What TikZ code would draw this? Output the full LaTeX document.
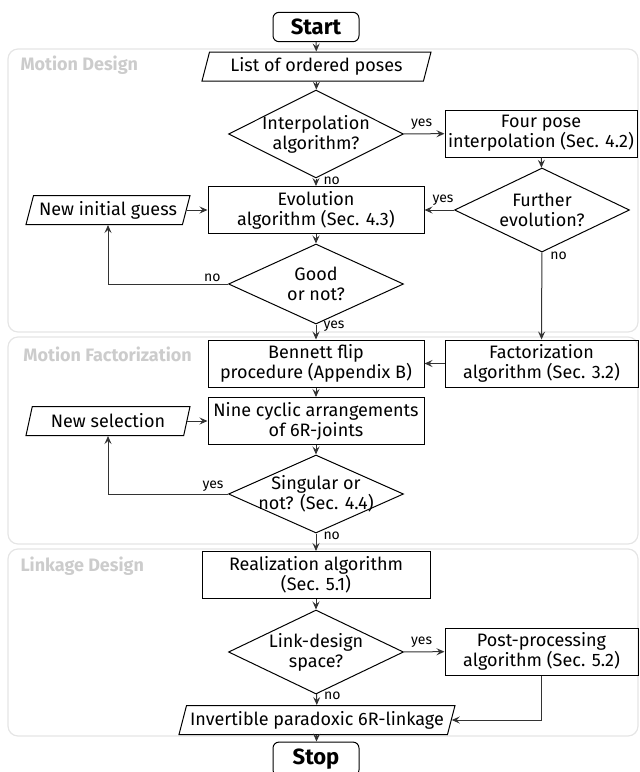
\documentclass[tikz,border=0pt]{standalone}
\usepackage{fontspec}
\setmainfont{Fira Sans}
\usetikzlibrary{shapes.geometric,arrows.meta,positioning}
\definecolor{grouptext}{gray}{0.8}
\definecolor{groupline}{gray}{0.9}
\definecolor{flowline}{gray}{0.2}

\begin{document}
\begin{tikzpicture}[
	x=0.5pt,
	y=-0.5pt,
	font=\fontsize{9}{10}\selectfont,
	>={Stealth[length=4pt,width=3.5pt,inset=1.5pt]},
	line width=0.5pt
]
\tikzset{
    process/.style = {rectangle, draw, align=center, minimum height=23.5pt, inner sep=1pt},
    decision/.style = {diamond, draw, align=center, aspect=2.2, inner sep=-2pt, minimum width=87.5pt, minimum height=42pt},
    io/.style = {trapezium, trapezium left angle=71, trapezium right angle=109, trapezium stretches body, draw, minimum height=14.5pt, inner sep=1pt},
    terminal/.style = {rectangle, rounded corners=3pt, draw, minimum width=43pt, minimum height=14pt, font=\fontsize{11}{12}\selectfont\bfseries},
    group/.style = {draw=groupline, rounded corners=5pt, line width=0.6pt},
    grouptitle/.style = {anchor=west, text=grouptext, font=\fontsize{9}{10}\selectfont\bfseries, inner sep=0pt},
    tag/.style = {font=\fontsize{7}{8}\selectfont, inner sep=1pt},
    flow/.style = {->, draw=flowline}
}
    \useasboundingbox (0,0) rectangle (640,772);

    % stages
    \draw[group] (8,49) rectangle (638,332);
    \draw[group] (8,337) rectangle (638,544);
    \draw[group] (8,549) rectangle (638,736);
    \node[grouptitle] at (20,65) {Motion Design};
    \node[grouptitle] at (23,354) {Motion Factorization};
    \node[grouptitle] at (20,566) {Linkage Design};

    % motion design
    \node (start) [terminal] at (316,27) {Start};
    \node (poses) [io, minimum width=114.5pt] at (316.5,66.5) {List of ordered poses};
    \node (interp) [decision, minimum height=44pt] at (316,134) {Interpolation\\algorithm?};
    \node (fourpose) [process, minimum width=96pt] at (541,133.5) {Four pose\\interpolation (Sec. 4.2)};
    \node (evol) [process, minimum width=108pt] at (316,210) {Evolution\\algorithm (Sec. 4.3)};
    \node (further) [decision] at (542,210) {Further\\evolution?};
    \node (guess) [io, minimum width=82pt] at (108,210) {New initial guess};
    \node (good) [decision, minimum height=40pt] at (316,284) {Good\\or not?};

    % motion factorization
    \node (bennett) [process, minimum width=108pt] at (316,363.5) {Bennett flip\\procedure (Appendix B)};
    \node (factor) [process, minimum width=96.5pt] at (541.5,363.5) {Factorization\\algorithm (Sec. 3.2)};
    \node (nine) [process, minimum width=108pt] at (316,421) {Nine cyclic arrangements\\of 6R-joints};
    \node (selection) [io, minimum width=82pt] at (108,421) {New selection};
    \node (singular) [decision, minimum height=39pt] at (316,494) {Singular or\\not? (Sec. 4.4)};

    % linkage design
    \node (realize) [process, minimum width=114pt] at (316,575) {Realization algorithm\\(Sec. 5.1)};
    \node (space) [decision] at (316,652) {Link-design\\space?};
    \node (post) [process, minimum width=96.5pt] at (541.5,651.5) {Post-processing\\algorithm (Sec. 5.2)};
    \node (linkage) [io, minimum width=138pt] at (317,720) {Invertible paradoxic 6R-linkage};
    \node (stop) [terminal] at (316,759) {Stop};

    % connectors
    \draw[flow] (start) -- (poses);
    \draw[flow] (poses) -- (interp);
    \draw[flow] (interp) -- node[tag, at start, anchor=south west, xshift=2.5pt, yshift=1pt] {yes} (fourpose);
    \draw[flow] (interp) -- node[tag, at start, anchor=west, xshift=2.5pt, yshift=-1pt] {no} (evol);
    \draw[flow] (fourpose) -- (further);
    \draw[flow] (further) -- node[tag, at start, anchor=south east, xshift=1pt, yshift=1pt] {yes} (evol);
    \draw[flow] (further) -- node[tag, at start, anchor=west, xshift=3pt, yshift=-1.5pt] {no} (factor);
    \draw[flow] (guess) -- (evol);
    \draw[flow] (evol) -- (good);
    \draw[flow] (good.west) node[tag, anchor=south east, xshift=-2.5pt] {no} -| (guess.south);
    \draw[flow] (good) -- node[tag, at start, anchor=west, xshift=2.5pt, yshift=-1pt] {yes} (bennett);
    \draw[flow] (factor) -- (bennett);
    \draw[flow] (bennett) -- (nine);
    \draw[flow] (selection) -- (nine);
    \draw[flow] (nine) -- (singular);
    \draw[flow] (singular.west) node[tag, anchor=south east, xshift=-1pt] {yes} -| (selection.south);
    \draw[flow] (singular) -- node[tag, at start, anchor=west, xshift=2.5pt, yshift=-1pt] {no} (realize);
    \draw[flow] (realize) -- (space);
    \draw[flow] (space) -- node[tag, at start, anchor=south west, xshift=2.5pt, yshift=1pt] {yes} (post);
    \draw[flow] (space) -- node[tag, at start, anchor=west, xshift=2.5pt, yshift=-1pt] {no} (linkage);
    \draw[flow] (post) |- (linkage);
    \draw[flow] (linkage) -- (stop);
\end{tikzpicture}
\end{document}
